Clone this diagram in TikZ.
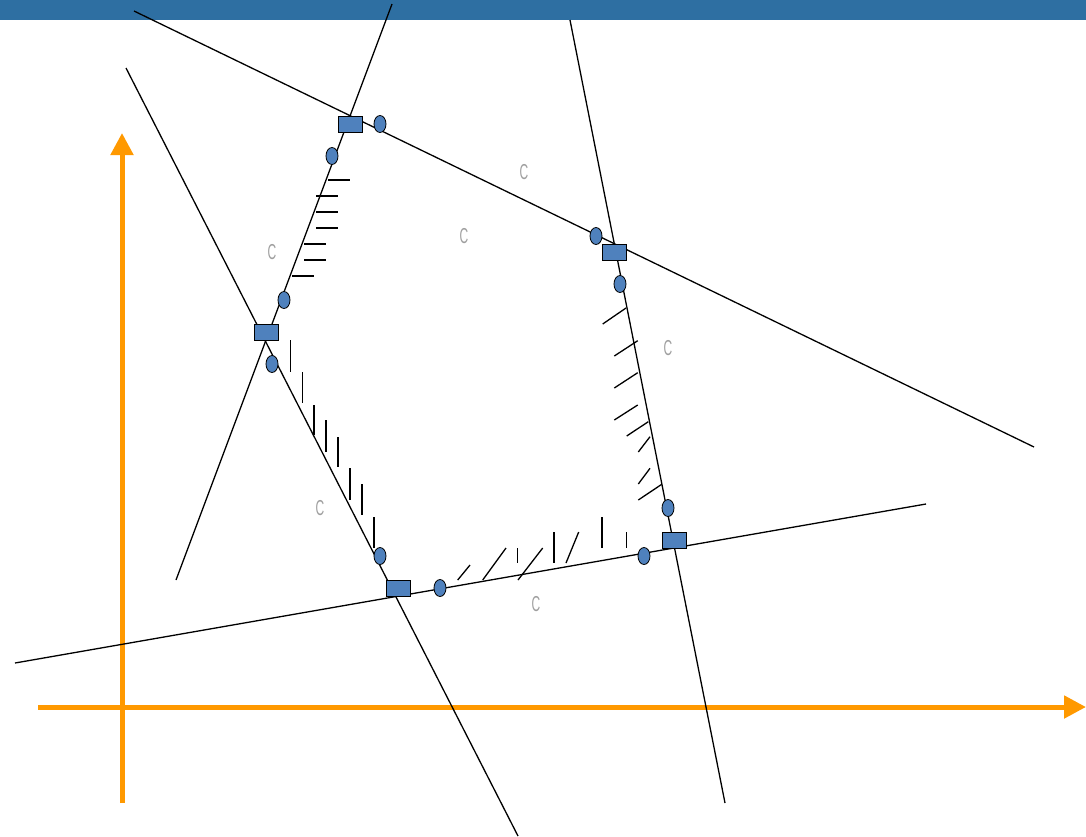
\documentclass[tikz,border=0pt]{standalone}
\usepackage{fontspec}
\setmainfont{Liberation Sans}
\usetikzlibrary{arrows.meta,shapes.geometric}
\definecolor{barblue}{RGB}{46,111,162}
\definecolor{dotblue}{RGB}{79,129,189}
\definecolor{axisorange}{RGB}{255,153,0}
\tikzset{
  edgeline/.style={black,line width=1.3pt},
  hatchline/.style={black,line width=1.3pt},
  vertexbox/.style={draw=black,fill=dotblue,line width=1pt,minimum width=24pt,minimum height=16pt,inner sep=0pt},
  pointdot/.style={draw=black,fill=dotblue,ellipse,line width=0.8pt,minimum width=12pt,minimum height=17pt,inner sep=0pt},
  regionlabel/.style={text=gray!75,font=\fontsize{16}{16}\selectfont,inner sep=0pt,xscale=0.75,yscale=1.35},
  axisline/.style={axisorange,line width=5pt,-{Triangle[length=22pt,width=22pt]}}
}
\begin{document}
\begin{tikzpicture}[x=1pt,y=-1pt]
\useasboundingbox (0,0) rectangle (1086,836);
\fill[white] (0,0) rectangle (1086,836);
\fill[barblue] (0,0) rectangle (1086,20);
% axes
\coordinate (yb) at (122,803); \coordinate (yt) at (122,133);
\coordinate (xl) at (38,707); \coordinate (xr) at (1086,707);
\draw[axisline] (yb) -- (yt);
\draw[axisline] (xl) -- (xr);
% constraint lines
\coordinate (l1a) at (134,11); \coordinate (l1b) at (1034,447);
\coordinate (l2a) at (392,4); \coordinate (l2b) at (176,580);
\coordinate (l3a) at (126,68); \coordinate (l3b) at (518,836);
\coordinate (l4a) at (15,663); \coordinate (l4b) at (926,504);
\coordinate (l5a) at (570,20); \coordinate (l5b) at (725,803);
\draw[edgeline] (l1a) -- (l1b);
\draw[edgeline] (l2a) -- (l2b);
\draw[edgeline] (l3a) -- (l3b);
\draw[edgeline] (l4a) -- (l4b);
\draw[edgeline] (l5a) -- (l5b);
% hatches left edge
\foreach \y/\a/\b in {180/328/350,196/316/338,212/316/338,228/316/338,244/304/326,260/304/326,276/292/314}
  \draw[hatchline] (\a,\y) -- (\b,\y);
% hatches lower-left edge
\foreach \x/\a/\b in {290.7/340/372,302.7/372/403,314/405/435,326/420/452,338/437/467,350/468/500,362/484/515,374/517/548}
  \draw[hatchline] (\x,\a) -- (\x,\b);
% hatches bottom edge
\draw[hatchline] (457.7,580) -- (470,565);
\draw[hatchline] (482.7,580) -- (506,548);
\draw[hatchline] (517.7,548) -- (517.7,563);
\draw[hatchline] (518,580) -- (542.7,548);
\draw[hatchline] (554,532) -- (554,563);
\draw[hatchline] (566,563) -- (578.7,532);
\draw[hatchline] (602,517) -- (602,548);
\draw[hatchline] (626.7,532) -- (626.7,548);
% hatches right edge
\draw[hatchline] (626,308) -- (602.7,324);
\draw[hatchline] (637.7,340.7) -- (614.3,356);
\draw[hatchline] (637.7,372.7) -- (614.3,388);
\draw[hatchline] (637.7,405) -- (614.3,420);
\draw[hatchline] (648.3,421.7) -- (626.7,436);
\draw[hatchline] (650,436.7) -- (638.3,452);
\draw[hatchline] (650,468.3) -- (638.3,484);
\draw[hatchline] (661.7,484.3) -- (638.3,500);
% vertices
\node[vertexbox] (vA) at (350,124) {};
\node[vertexbox] (vB) at (614,252) {};
\node[vertexbox] (vC) at (674,540) {};
\node[vertexbox] (vD) at (398,588) {};
\node[vertexbox] (vE) at (266,332) {};
% points
\node[pointdot] (p1) at (380,124) {};
\node[pointdot] (p2) at (332,156) {};
\node[pointdot] (p3) at (284,300) {};
\node[pointdot] (p4) at (272,364) {};
\node[pointdot] (p5) at (380,556) {};
\node[pointdot] (p6) at (440,588) {};
\node[pointdot] (p7) at (644,556) {};
\node[pointdot] (p8) at (668,508) {};
\node[pointdot] (p9) at (620,284) {};
\node[pointdot] (p10) at (596,236) {};
% labels
\node[regionlabel] (c1) at (524,172) {C};
\node[regionlabel] (c2) at (464,236) {C};
\node[regionlabel] (c3) at (272,252) {C};
\node[regionlabel] (c4) at (668,348) {C};
\node[regionlabel] (c5) at (320,508) {C};
\node[regionlabel] (c6) at (536,604) {C};
\end{tikzpicture}
\end{document}
